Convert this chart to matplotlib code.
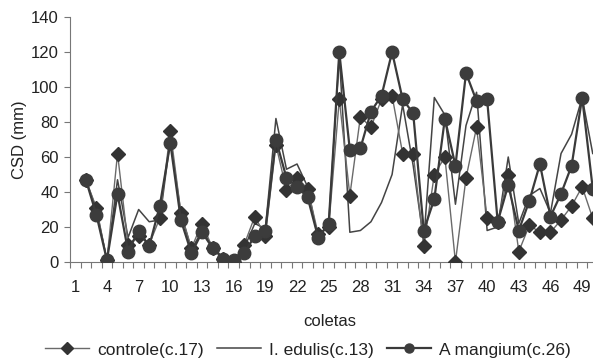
import numpy as np
import matplotlib
matplotlib.use("Agg")
import matplotlib.pyplot as plt

plt.rcParams['font.family'] = ['Liberation Sans', 'DejaVu Sans']

coletas = list(range(2, 51))
controle = [47, 31, 1, 62, 10, 15, 10, 25, 75, 28, 8, 22, 8, 2, 0, 10, 26, 15, 67,
            41, 48, 42, 16, 20, 93, 38, 83, 77, 93, 95, 62, 62, 9, 50, 60, 0, 48,
            77, 25, 23, 50, 6, 21, 17, 17, 24, 32, 43, 25]
edulis = [47, 30, 1, 47, 14, 30, 23, 24, 70, 28, 7, 18, 9, 2, 1, 8, 22, 19, 82,
          53, 56, 43, 13, 22, 118, 17, 18, 23, 34, 50, 90, 55, 12, 94, 84, 33, 78,
          97, 18, 20, 60, 22, 38, 42, 28, 62, 73, 94, 62]
mangium = [47, 27, 1, 39, 6, 18, 9, 32, 68, 24, 5, 17, 8, 2, 1, 5, 15, 18, 70,
           48, 43, 37, 14, 22, 120, 64, 65, 86, 95, 120, 93, 85, 18, 36, 82, 55, 108,
           92, 93, 23, 44, 18, 35, 56, 26, 39, 55, 94, 42]
tick_labels = [str(v) for v in range(1, 50, 3)]
series_names = ['controle(c.17)', 'I. edulis(c.13)', 'A mangium(c.26)']

fig = plt.figure(figsize=(5.93, 3.61), dpi=100)
ax = fig.add_axes([70/593, 99/361, 528/593, 245/361])

x = np.array(coletas)
ax.plot(x, controle, color='#6a6a6a', lw=1.0, marker='D', markersize=7,
        markerfacecolor='#333333', markeredgecolor='#333333', label=series_names[0], zorder=3)
ax.plot(x, edulis, color='#444444', lw=1.1, label=series_names[1], zorder=2)
ax.plot(x, mangium, color='#3a3a3a', lw=1.6, marker='o', markersize=9,
        markerfacecolor='#3c3c3c', markeredgecolor='#3c3c3c', label=series_names[2], zorder=4)

ax.set_xlim(0.5, 50.5)
ax.set_ylim(0, 140)
ax.set_yticks(range(0, 141, 20))
ax.set_xticks(np.arange(0.5, 51, 1.0))
ax.set_xticklabels([])
ax.set_xticks(range(1, 50, 3), minor=True)
ax.set_xticklabels(tick_labels, minor=True)
ax.tick_params(axis='x', which='major', length=4, width=0.8, color='#777777', direction='out')
ax.tick_params(axis='x', which='minor', length=0, pad=13, labelsize=12, labelcolor='#222222')
ax.tick_params(axis='y', length=4, width=0.8, color='#777777', labelsize=12, labelcolor='#222222', pad=4)

for s in ['top', 'right']:
    ax.spines[s].set_visible(False)
for s in ['left', 'bottom']:
    ax.spines[s].set_color('#777777')
    ax.spines[s].set_linewidth(0.8)

ax.set_ylabel('CSD (mm)', fontsize=12, color='#222222', labelpad=3)
fig.text(330/593, 1 - 321/361, 'coletas', ha='center', va='center', fontsize=12, color='#222222')

leg = fig.legend(loc='center', bbox_to_anchor=(308/593, 1 - 350/361), ncol=3, frameon=False,
                 fontsize=12.5, handlelength=2.5, columnspacing=0.8, handletextpad=0.46,
                 borderaxespad=0, borderpad=0)
for t in leg.get_texts():
    t.set_color('#222222')
for h in leg.legend_handles:
    h.set_markersize(6.5)

fig.savefig('out.png', dpi=100)
